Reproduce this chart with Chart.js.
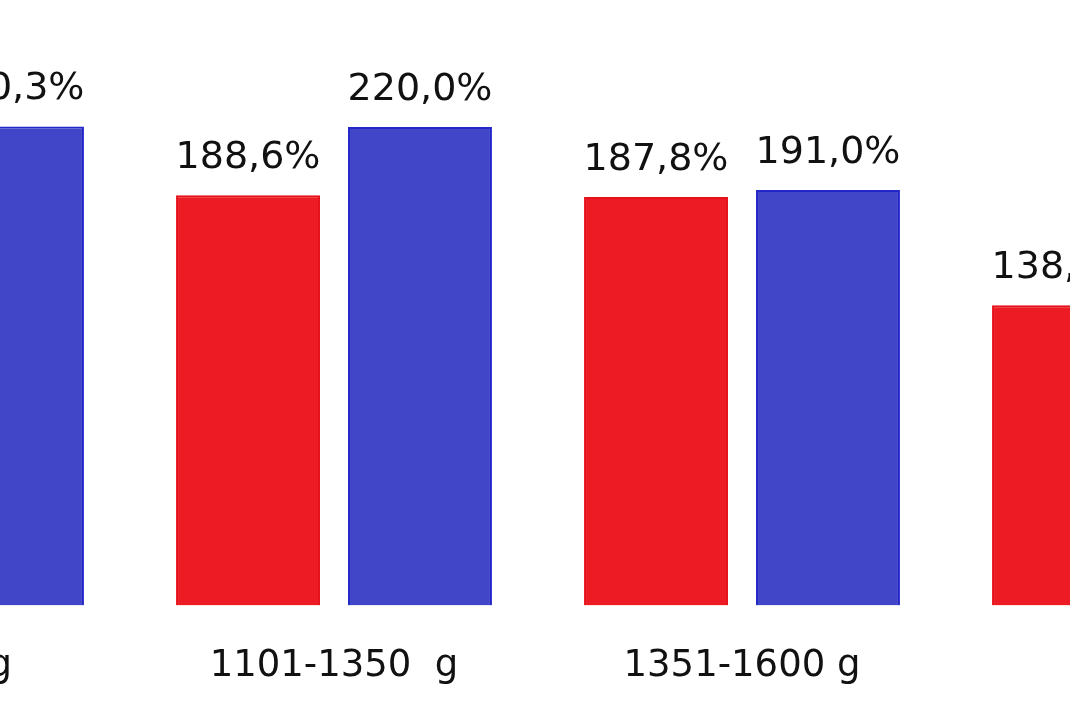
<!DOCTYPE html>
<html>
<head>
<meta charset="utf-8">
<script src="https://cdn.jsdelivr.net/npm/chart.js@4/dist/chart.umd.min.js"></script>
<style>
  body { margin: 0; background: #fff; }
  #wrap { position: relative; width: 1070px; height: 713px; overflow: hidden; background: #fff; }
  #chart { position: absolute; left: -278px; top: 0; }
</style>
</head>
<body>
<div id="wrap"><canvas id="chart" width="1632" height="758"></canvas></div>
<script>
// weight classes (the picture is cropped, only part of the outer groups shows)
const categories = ['<1100  g', '1101-1350  g', '1351-1600 g', '>1600 g'];
const redValues = [null, 188.6, 187.8, 138.1];
const blueValues = [220.3, 220.0, 191.0, null];

const RED = '#ed1c24';
const BLUE = '#4146c8';

const fmt = function (v) {
    return v.toFixed(1).replace('.', ',') + '%';
};

// value labels above each bar
const valueLabels = {
    id: 'valueLabels',
    afterDatasetsDraw: function (chart) {
        const ctx = chart.ctx;
        ctx.save();
        ctx.font = '38px "DejaVu Sans"';
        ctx.fillStyle = '#111';
        ctx.textAlign = 'center';
        ctx.textBaseline = 'alphabetic';
        chart.data.datasets.forEach(function (ds, i) {
            const meta = chart.getDatasetMeta(i);
            meta.data.forEach(function (bar, j) {
                const v = ds.data[j];
                if (v === null || v === undefined) return;
                ctx.fillText(fmt(v), bar.x, bar.y - 27);
            });
        });
        ctx.restore();
    }
};

new Chart(document.getElementById('chart').getContext('2d'), {
    type: 'bar',
    data: {
        labels: categories,
        datasets: [
            {
                data: redValues,
                backgroundColor: RED,
                borderColor: '#e5101a',
                borderWidth: 2,
                categoryPercentage: 0.843,
                barPercentage: 0.837
            },
            {
                data: blueValues,
                backgroundColor: BLUE,
                borderColor: '#2327c9',
                borderWidth: 2,
                categoryPercentage: 0.843,
                barPercentage: 0.837
            }
        ]
    },
    options: {
        responsive: false,
        animation: false,
        layout: {padding: {top: 0, left: 0, right: 0, bottom: 30}},
        plugins: {
            legend: {display: false},
            tooltip: {enabled: false}
        },
        scales: {
            x: {
                grid: {display: false, drawTicks: false},
                border: {display: false},
                ticks: {
                    color: '#111',
                    font: {family: 'DejaVu Sans', size: 37},
                    padding: 39,
                    autoSkip: false,
                    maxRotation: 0,
                    minRotation: 0
                }
            },
            y: {
                display: false,
                min: 0,
                max: 278.4
            }
        }
    },
    plugins: [valueLabels]
});
</script>
</body>
</html>
